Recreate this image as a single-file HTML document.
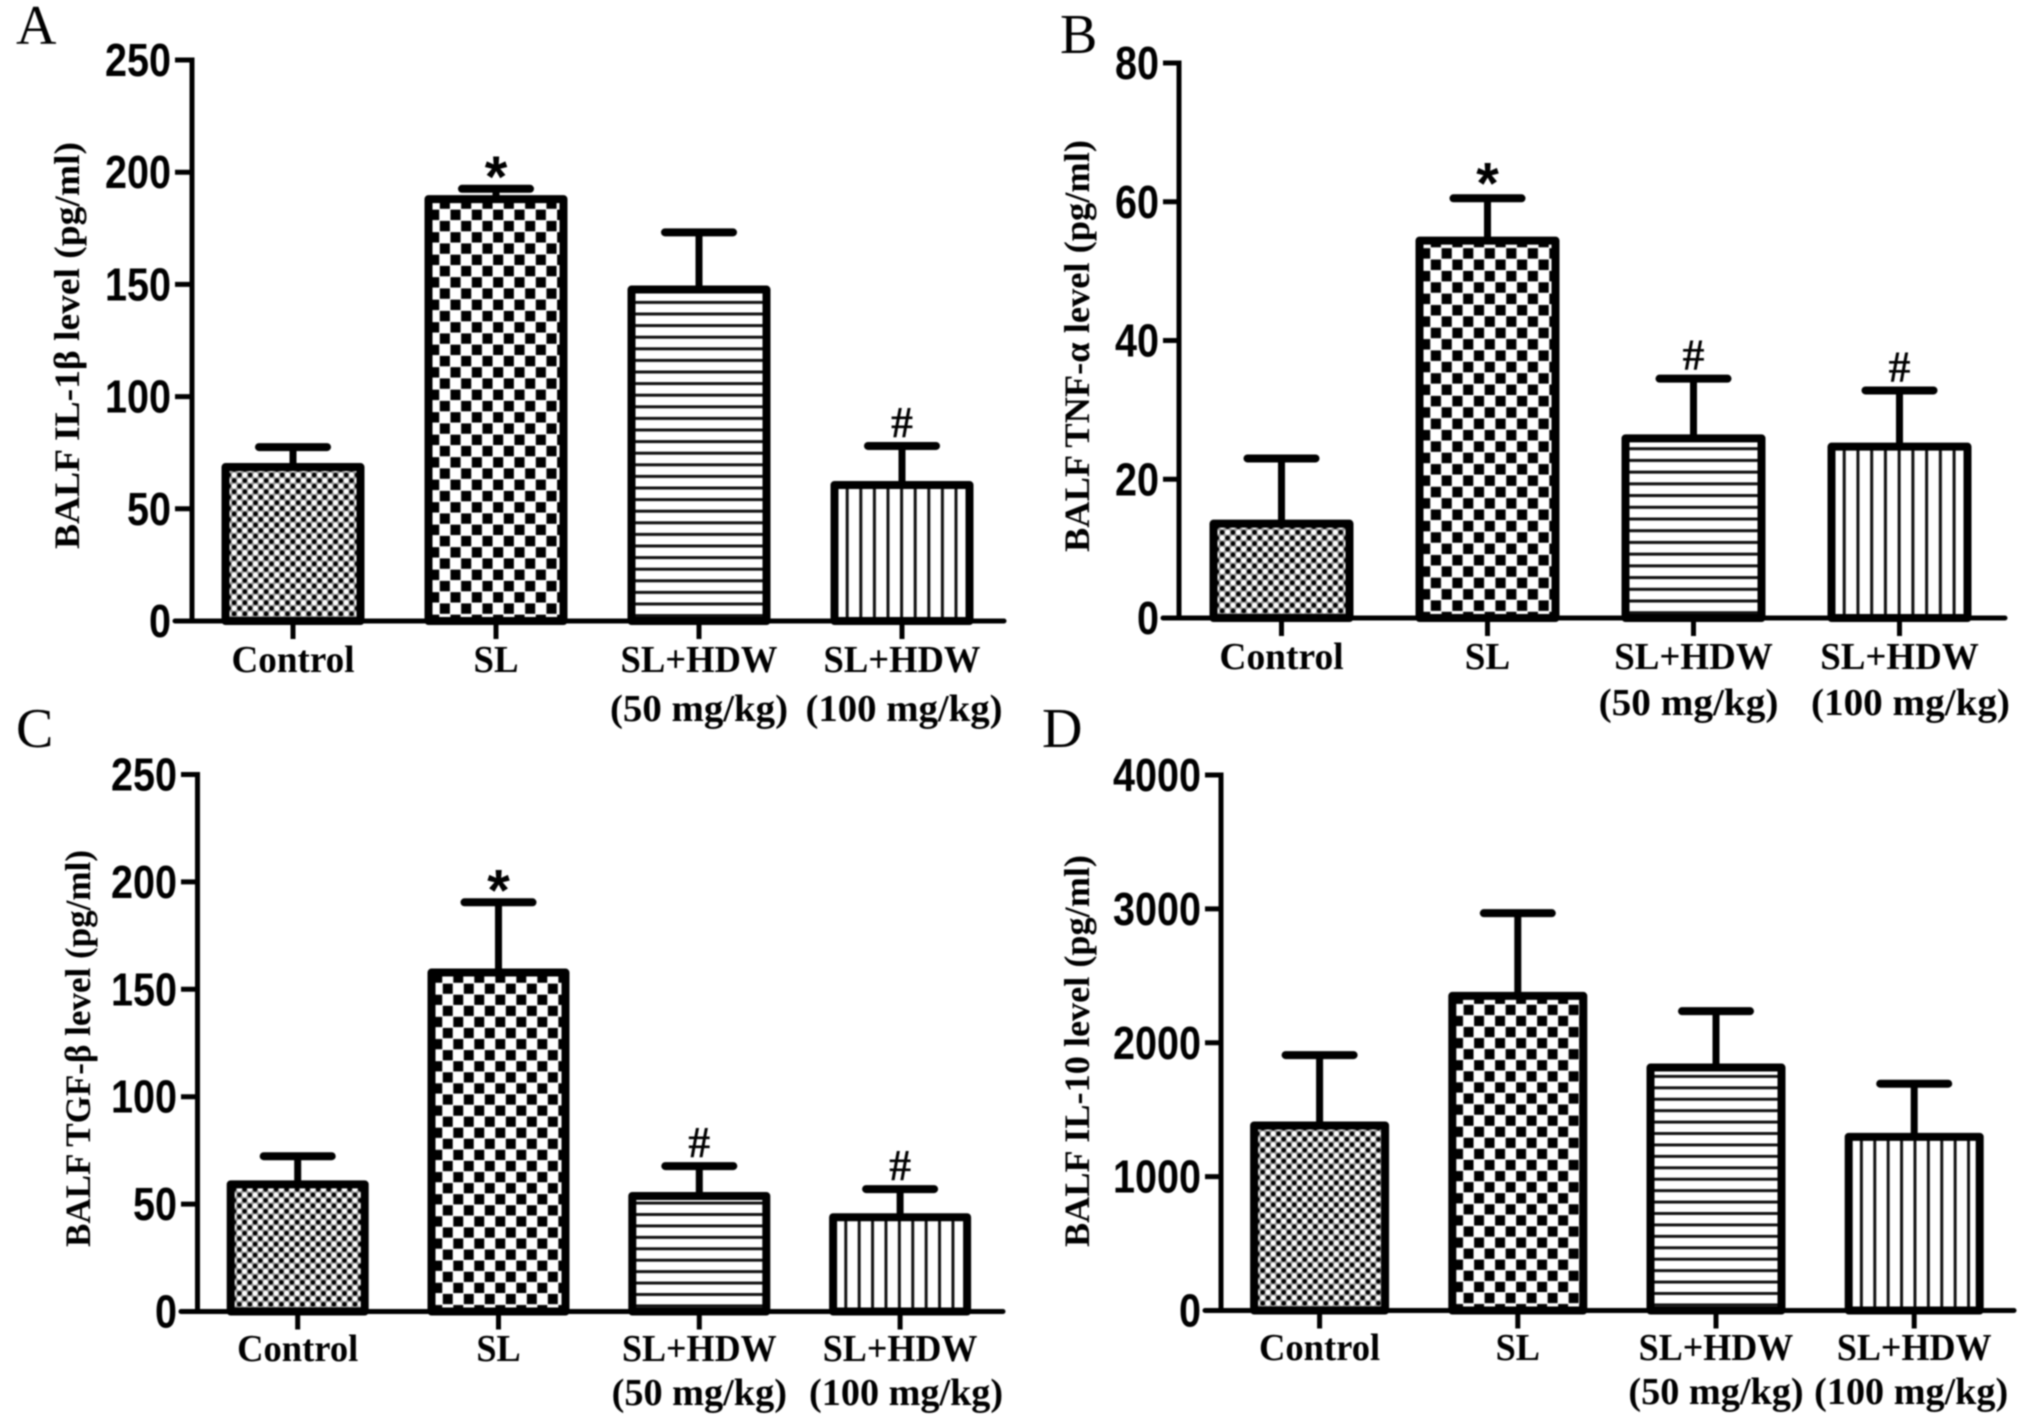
<!DOCTYPE html>
<html lang="en">
<head>
<meta charset="utf-8">
<title>BALF cytokine levels</title>
<style>
html,body{margin:0;padding:0;background:#fff;width:2031px;height:1420px;overflow:hidden}
svg{display:block;filter:blur(.8px)}
.tick{font-family:"Liberation Sans",sans-serif;font-weight:700;fill:#000}
.ser{font-family:"Liberation Serif",serif;font-weight:700;fill:#000}
.letter{font-family:"Liberation Serif",serif;font-size:56px;fill:#000}
</style>
</head>
<body>
<svg id="figure" xmlns="http://www.w3.org/2000/svg" width="2031" height="1420" viewBox="0 0 2031 1420">
<rect width="2031" height="1420" fill="#fff"/>
<defs id="defs"></defs>
</svg>
<script>
// ---- chart data ----
const categories = ["Control", "SL", "SL+HDW", "SL+HDW"];
const doses = ["", "", "(50 mg/kg)", "(100 mg/kg)"];

const ilBetaMeans = [68.6, 188, 147.7, 60.6];
const ilBetaErrors = [8.9, 4.6, 25.5, 17.4];
const ilBetaMarks = ["", "*", "", "#"];
const ilBetaTicks = [0, 50, 100, 150, 200, 250];

const tnfMeans = [13.6, 54.4, 25.9, 24.7];
const tnfErrors = [9.4, 6.1, 8.6, 8.1];
const tnfMarks = ["", "*", "#", "#"];
const tnfTicks = [0, 20, 40, 60, 80];

const tgfMeans = [59.2, 157.8, 53.8, 43.9];
const tgfErrors = [13.1, 32.7, 13.9, 13.1];
const tgfMarks = ["", "*", "#", "#"];
const tgfTicks = [0, 50, 100, 150, 200, 250];

const il10Means = [1382, 2350, 1815, 1297];
const il10Errors = [526, 618, 421, 397];
const il10Marks = ["", "", "", ""];
const il10Ticks = [0, 1000, 2000, 3000, 4000];

// ---- panel layout (not data) ----
const panels = [
  {id:"a", letter:"A", lx:16, ly:44, title:"BALF IL-1β level (pg/ml)", tx:79, ty1:549, tlen:407,
   means:ilBetaMeans, errs:ilBetaErrors, marks:ilBetaMarks, ticks:ilBetaTicks, max:250,
   axisX:192, y0:621, yTop:60, xStart:175, xEnd:1004, c0:293, step:203, bw:135,
   base1:672, base2:721, nudge:[0,0,0,2], k:1, starDy:8},
  {id:"b", letter:"B", lx:1060, ly:53, title:"BALF TNF-α level (pg/ml)", tx:1089, ty1:552, tlen:412,
   means:tnfMeans, errs:tnfErrors, marks:tnfMarks, ticks:tnfTicks, max:80,
   axisX:1179, y0:618, yTop:63, xStart:1163, xEnd:2005, c0:1281.5, step:206, bw:136,
   base1:669, base2:715, nudge:[0,0,-5,11], k:1.01, starDy:5},
  {id:"c", letter:"C", lx:16, ly:747, title:"BALF TGF-β level (pg/ml)", tx:90, ty1:1247, tlen:397,
   means:tgfMeans, errs:tgfErrors, marks:tgfMarks, ticks:tgfTicks, max:250,
   axisX:197.5, y0:1311.5, yTop:774.5, xStart:181, xEnd:1003, c0:297.7, step:200.8, bw:134,
   base1:1361, base2:1405, nudge:[0,0,0,6], k:.985, starDy:8},
  {id:"d", letter:"D", lx:1042, ly:747, title:"BALF IL-10 level (pg/ml)", tx:1089, ty1:1247, tlen:392,
   means:il10Means, errs:il10Errors, marks:il10Marks, ticks:il10Ticks, max:4000,
   axisX:1221, y0:1310.5, yTop:775, xStart:1205, xEnd:2014, c0:1319.6, step:198.2, bw:131,
   base1:1360, base2:1404, nudge:[0,0,0,-3], k:.985, starDy:8}
];

const NS = "http://www.w3.org/2000/svg";
const svg = document.getElementById("figure");
const defs = document.getElementById("defs");

function mk(tag, parent, attrs, text) {
  const e = document.createElementNS(NS, tag);
  for (const k in attrs) e.setAttribute(k, attrs[k]);
  if (text !== undefined) e.textContent = text;
  parent.appendChild(e);
  return e;
}

function makePattern(id, kind, left, y0, k) {
  let w, h, tx, ty;
  if (kind === 0) { w = 10.67; h = 11.1; tx = left + 10; ty = y0 - 10; }
  if (kind === 1) { w = 21.33; h = 22.5; tx = left + 15; ty = y0 - 18; }
  if (kind === 2) { w = 40; h = 11.6; tx = left; ty = y0 - 18.5; }
  if (kind === 3) { w = 13.6; h = 40; tx = left + 15.2; ty = y0; }
  const p = mk("pattern", defs, {id:id, patternUnits:"userSpaceOnUse", width:w, height:h,
    patternTransform:"translate(" + tx + " " + ty + ") scale(" + k + ")"});
  if (kind === 0) {
    mk("rect", p, {width:w, height:h, fill:"#999"});
    mk("circle", p, {cx:2.67, cy:2.78, r:2.3, fill:"#000"});
    mk("circle", p, {cx:8, cy:8.33, r:2.3, fill:"#000"});
    mk("circle", p, {cx:8, cy:2.78, r:2.5, fill:"#fff"});
    mk("circle", p, {cx:2.67, cy:8.33, r:2.5, fill:"#fff"});
  } else if (kind === 1) {
    mk("rect", p, {width:w, height:h, fill:"#fff"});
    mk("rect", p, {x:.3, y:.4, width:10.1, height:10.4, fill:"#000"});
    mk("rect", p, {x:10.97, y:11.65, width:10.1, height:10.4, fill:"#000"});
  } else if (kind === 2) {
    mk("rect", p, {width:w, height:h, fill:"#fff"});
    mk("rect", p, {y:0, width:w, height:3, fill:"#111"});
  } else {
    mk("rect", p, {width:w, height:h, fill:"#fff"});
    mk("rect", p, {x:0, width:3, height:h, fill:"#111"});
  }
}

panels.forEach(function (P) {
  const yScale = function (v) { return P.y0 - (v / P.max) * (P.y0 - P.yTop); };
  const xScale = function (i) { return P.c0 + P.step * i; };

  const g = mk("g", svg, {});
  
  

  const letter = mk("text", g, {x:P.lx, y:P.ly, "class":"letter"}, P.letter);
  
  

  const title = mk("text", g, {"class":"ser", "font-size":36, transform:"translate(" + P.tx + " " + P.ty1 + ") rotate(-90)",
    textLength:P.tlen, lengthAdjust:"spacingAndGlyphs"}, P.title);
  
  

  P.means.forEach(function (m, i) {
    const cx = xScale(i);
    const top = yScale(m);
    const errTop = yScale(m + P.errs[i]);
    const left = cx - P.bw / 2;

    const stem = mk("line", g, {x1:cx, x2:cx, y1:top, y2:errTop, stroke:"#000", "stroke-width":7});
    
    

    const cap = mk("line", g, {x1:cx - 34, x2:cx + 34, y1:errTop, y2:errTop, stroke:"#000", "stroke-width":8, "stroke-linecap":"round"});
    
    

    const pid = "hatch-" + P.id + "-" + i;
    makePattern(pid, i, left - 4, P.y0, P.k);

    const bar = mk("rect", g, {x:left, y:top, width:P.bw, height:P.y0 - top, fill:"url(#" + pid + ")",
      stroke:"#000", "stroke-width":8, "stroke-linejoin":"round"});
    
    

    if (P.marks[i]) {
      const isStar = P.marks[i] === "*";
      const mark = mk("text", g, {x:cx, y:errTop + (isStar ? P.starDy : -9), "text-anchor":"middle",
        "class":isStar ? "tick" : "ser", "font-size":isStar ? 58 : 44}, P.marks[i]);
      
      
    }

    const tick = mk("line", g, {x1:cx, x2:cx, y1:P.y0, y2:P.y0 + 18, stroke:"#000", "stroke-width":5});
    
    

    const lab1Width = [123, 45, 157, 157][i] * P.k;
    const lab = mk("text", g, {x:cx, y:P.base1, "text-anchor":"middle", "class":"ser", "font-size":38,
      textLength:lab1Width, lengthAdjust:"spacingAndGlyphs"}, categories[i]);
    
    

    if (doses[i]) {
      const lab2Width = [0, 0, 178, 197][i] * P.k;
      const lab2 = mk("text", g, {x:cx + P.nudge[i], y:P.base2, "text-anchor":"middle", "class":"ser", "font-size":38,
        textLength:lab2Width, lengthAdjust:"spacingAndGlyphs"}, doses[i]);
      
      
    }
  });

  const yAxis = mk("line", g, {x1:P.axisX, x2:P.axisX, y1:P.yTop - 2.5, y2:P.y0 + 2.5, stroke:"#000", "stroke-width":5});
  
  

  const xAxis = mk("line", g, {x1:P.xStart, x2:P.xEnd, y1:P.y0, y2:P.y0, stroke:"#000", "stroke-width":5, "stroke-linecap":"round"});
  
  

  P.ticks.forEach(function (t) {
    const y = yScale(t);
    const tk = mk("line", g, {x1:P.xStart, x2:P.axisX, y1:y, y2:y, stroke:"#000", "stroke-width":5});
    
    

    const s = String(t);
    const lb = mk("text", g, {x:P.xStart - 4, y:y + 16, "text-anchor":"end", "class":"tick", "font-size":46,
      textLength:s.length * 22, lengthAdjust:"spacingAndGlyphs"}, s);
    
    
  });
});
</script>
</body>
</html>
